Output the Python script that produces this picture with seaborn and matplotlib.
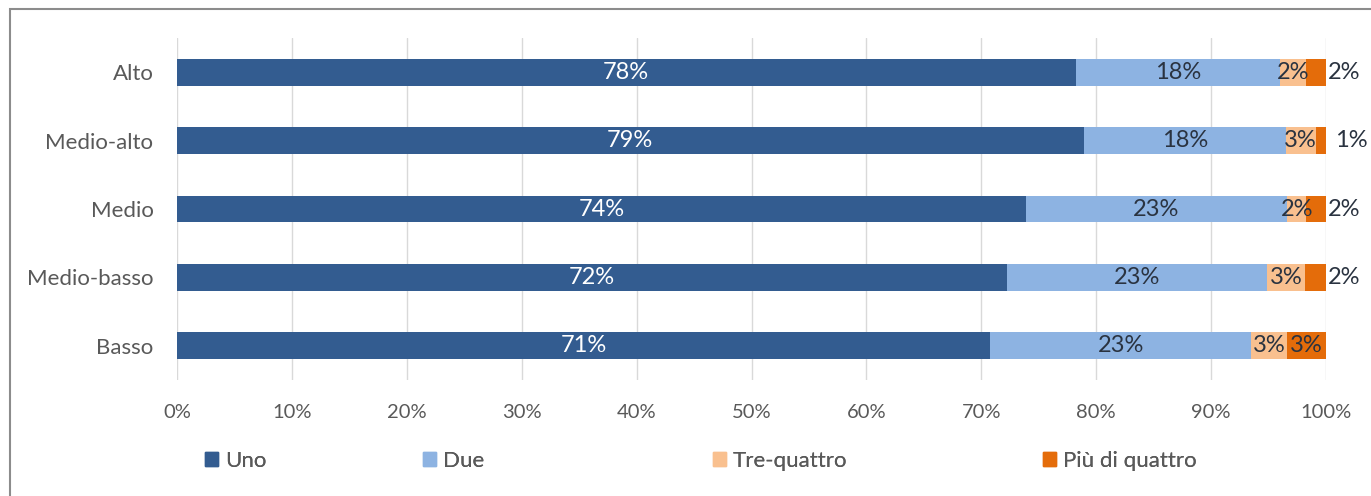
import matplotlib
matplotlib.use("Agg")
import matplotlib.pyplot as plt
import matplotlib.patches as mpatches
import numpy as np
import pandas as pd
import seaborn as sns

# data (shares in %)
categories = ["Alto", "Medio-alto", "Medio", "Medio-basso", "Basso"]
series = ["Uno", "Due", "Tre-quattro", "Più di quattro"]
uno = [78.2, 78.9, 73.9, 72.2, 70.8]
due = [17.8, 17.6, 22.7, 22.7, 22.7]
tre_quattro = [2.3, 2.6, 1.7, 3.3, 3.1]
piu_di_quattro = [1.7, 0.9, 1.7, 1.8, 3.4]
xticks = [0, 10, 20, 30, 40, 50, 60, 70, 80, 90, 100]

colors = ["#335c90", "#8db3e2", "#f9c08f", "#e46c0a"]
label_colors = ["white", "#2a3340", "#2a3340", "#2a3340"]

df = pd.DataFrame(
    {"categoria": categories, "Uno": uno, "Due": due,
     "Tre-quattro": tre_quattro, "Più di quattro": piu_di_quattro}
)
cum = df[series].cumsum(axis=1)

sns.set_theme(style="white")
plt.rcParams["font.family"] = ["Lato", "DejaVu Sans"]

fig = plt.figure(figsize=(13.71, 4.96), dpi=100)
ax = fig.add_axes([177 / 1371, 1 - 380 / 496, (1326 - 177) / 1371, (380 - 38) / 496])

# stacked bars: draw cumulative totals, widest first
for s, c in zip(reversed(series), reversed(colors)):
    sns.barplot(x=cum[s], y=df["categoria"], orient="h", color=c,
                width=0.39, ax=ax, saturation=1, linewidth=0, zorder=3)

# data labels
for i, cat in enumerate(categories):
    left = 0
    for j, s in enumerate(series):
        v = df.loc[i, s]
        txt = f"{int(v + 0.5)}%"
        if j == 3 and v < 2.5:
            ax.text(100.2 + (0.6 if v < 1 else 0), i, txt, ha="left", va="center",
                    fontsize=17, color=label_colors[j], zorder=5)
        else:
            ax.text(left + v / 2, i, txt, ha="center", va="center",
                    fontsize=17, color=label_colors[j], zorder=5)
        left += v

ax.set_xlim(0, 100)
ax.set_ylim(4.5, -0.5)
ax.set_xticks(xticks)
ax.set_xticklabels([f"{t}%" for t in xticks])
ax.tick_params(axis="x", length=0, pad=17, labelsize=14.5, labelcolor="#595959")
ax.tick_params(axis="y", length=0, pad=17, labelsize=16, labelcolor="#595959")
ax.set_xlabel("")
ax.set_ylabel("")
ax.grid(axis="x", color="#d9d9d9", linewidth=1, zorder=0)
ax.set_axisbelow(True)
sns.despine(ax=ax, left=True, bottom=True)

# legend entries placed one by one, as in the original layout
legend_x = [205, 423, 713, 1043]
for s, c, x in zip(series, colors, legend_x):
    leg = fig.legend(handles=[mpatches.Patch(color=c, label=s)], frameon=False,
                     loc="center left", bbox_to_anchor=(x / 1371, 1 - 461 / 496),
                     fontsize=16, handlelength=0.6, handleheight=0.6,
                     handletextpad=0.3, labelcolor="#595959",
                     borderaxespad=0, borderpad=0)
    fig.add_artist(leg)

# outer chart frame (only left/top edges are visible in the crop)
fig.patches.append(mpatches.Rectangle((10 / 1371, -0.1), 1.2, 1.1 - 9 / 496,
                                      transform=fig.transFigure, fill=False,
                                      edgecolor="#8c8c8c", linewidth=1.5))

fig.savefig("out.png", dpi=100)
